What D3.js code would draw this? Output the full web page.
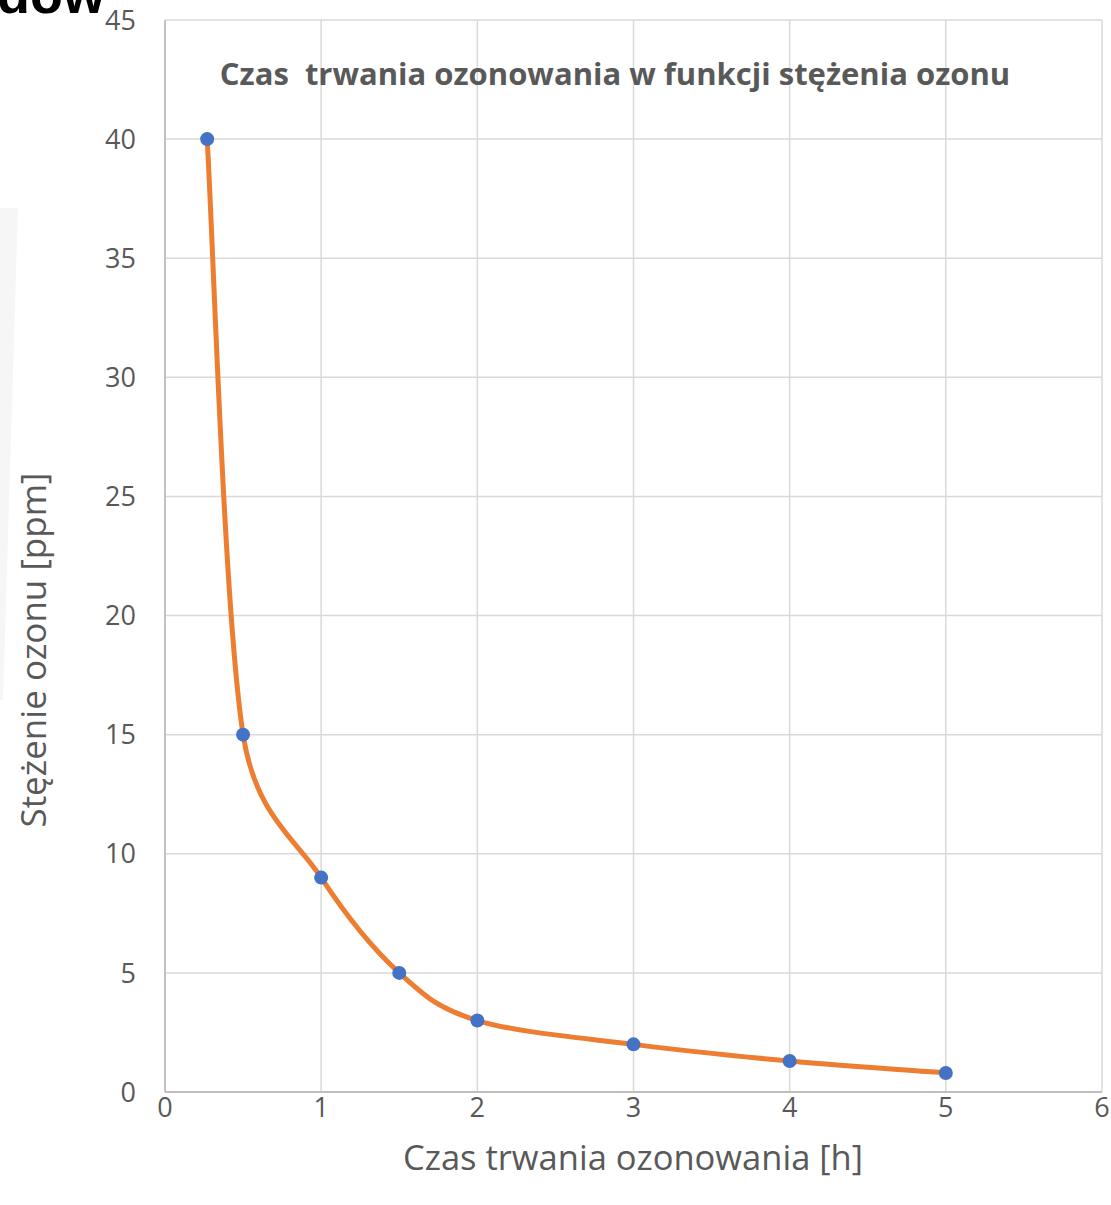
<!DOCTYPE html>
<html><head><meta charset="utf-8">
<script src="https://cdn.jsdelivr.net/npm/d3@7"></script>
<style>body{margin:0;background:#fff}svg{display:block}</style>
</head><body>
<script>
const timeH = [0.27, 0.5, 1, 1.5, 2, 3, 4, 5];
const ozonePpm = [40, 15, 9, 5, 3, 2, 1.3, 0.8];
const xTicks = [0, 1, 2, 3, 4, 5, 6];
const yTicks = [0, 5, 10, 15, 20, 25, 30, 35, 40, 45];
const title = "Czas  trwania ozonowania w funkcji stężenia ozonu";
const xTitle = "Czas trwania ozonowania [h]";
const yTitle = "Stężenie ozonu [ppm]";

const W = 1111, H = 1205;
const L = 165, R = 1102, T = 20, B = 1092;
const font = "'Open Sans', 'Liberation Sans', sans-serif";
const svg = d3.select("body").append("svg").attr("width", W).attr("height", H);

// Excel-like smoothing curve: Catmull-Rom tangents (1/6) capped to half the segment length
function excelCurve(context) {
  let pts = [];
  return {
    areaStart() {}, areaEnd() {},
    lineStart() { pts = []; },
    point(x, y) { pts.push([+x, +y]); },
    lineEnd() {
      const n = pts.length;
      if (!n) return;
      context.moveTo(pts[0][0], pts[0][1]);
      const tan = i => {
        const a = pts[Math.max(0, i - 1)], b = pts[Math.min(n - 1, i + 1)];
        return [(b[0] - a[0]) / 6, (b[1] - a[1]) / 6];
      };
      const cap = (t, len) => {
        const m = Math.hypot(t[0], t[1]);
        const s = m > 0 ? Math.min(1, 0.5 * len / m) : 0;
        return [t[0] * s, t[1] * s];
      };
      for (let i = 0; i < n - 1; i++) {
        const p = pts[i], q = pts[i + 1];
        const len = Math.hypot(q[0] - p[0], q[1] - p[1]);
        const t1 = cap(tan(i), len), t2 = cap(tan(i + 1), len);
        context.bezierCurveTo(p[0] + t1[0], p[1] + t1[1], q[0] - t2[0], q[1] - t2[1], q[0], q[1]);
      }
    }
  };
}

// faint left shadow
svg.append("polygon").attr("points", "0,208 18,208 3,700 0,700").attr("fill", "#f6f6f6");

const x = d3.scaleLinear().domain([0, 6]).range([L, R]);
const y = d3.scaleLinear().domain([0, 45]).range([B, T]);

// gridlines
svg.append("g").selectAll("line").data(yTicks).join("line")
  .attr("x1", L).attr("x2", R).attr("y1", d => y(d)).attr("y2", d => y(d))
  .attr("stroke", "#d9d9d9").attr("stroke-width", 1.5);
svg.append("g").selectAll("line").data(xTicks).join("line")
  .attr("y1", T).attr("y2", B).attr("x1", d => x(d)).attr("x2", d => x(d))
  .attr("stroke", "#d9d9d9").attr("stroke-width", 1.5);
// axis lines
svg.append("line").attr("x1", L).attr("x2", R).attr("y1", B).attr("y2", B).attr("stroke", "#bfbfbf").attr("stroke-width", 1.8);
svg.append("line").attr("x1", L).attr("x2", L).attr("y1", T).attr("y2", B).attr("stroke", "#bfbfbf").attr("stroke-width", 1.8);

// tick labels
svg.append("g").selectAll("text").data(yTicks).join("text")
  .attr("x", 136).attr("y", d => y(d)).attr("dy", "0.36em").attr("text-anchor", "end")
  .attr("font-family", font).attr("font-size", 27).attr("fill", "#595959").text(d => d);
svg.append("g").selectAll("text").data(xTicks).join("text")
  .attr("x", d => x(d)).attr("y", 1107).attr("dy", "0.36em").attr("text-anchor", "middle")
  .attr("font-family", font).attr("font-size", 27).attr("fill", "#595959").text(d => d);

// title
svg.append("text").attr("x", 615).attr("y", 85).attr("text-anchor", "middle")
  .attr("font-family", font).attr("font-size", 31).attr("font-weight", "bold")
  .attr("fill", "#595959").style("white-space", "pre").text(title);

// axis titles
svg.append("text").attr("x", 633).attr("y", 1158).attr("dy", "0.36em").attr("text-anchor", "middle")
  .attr("font-family", font).attr("font-size", 34.5).attr("fill", "#595959").text(xTitle);
svg.append("text").attr("transform", "translate(33,650) rotate(-90)").attr("dy", "0.36em").attr("text-anchor", "middle")
  .attr("font-family", font).attr("font-size", 35).attr("fill", "#595959").text(yTitle);

// cropped heading fragment
svg.append("text").attr("x", -3).attr("y", 13).attr("font-family", "'Liberation Sans', Arial, sans-serif")
  .attr("font-size", 54).attr("font-weight", "bold").attr("fill", "#000").text("dow");

// line + points
const pts = timeH.map((t, i) => [t, ozonePpm[i]]);
const line = d3.line().x(d => x(d[0])).y(d => y(d[1])).curve(excelCurve);
svg.append("path").datum(pts).attr("d", line).attr("fill", "none")
  .attr("stroke", "#ED7D31").attr("stroke-width", 5).attr("stroke-linejoin", "round").attr("stroke-linecap", "round");
svg.append("g").selectAll("circle").data(pts).join("circle")
  .attr("cx", d => x(d[0])).attr("cy", d => y(d[1])).attr("r", 7).attr("fill", "#4472C4");
</script>
</body></html>
